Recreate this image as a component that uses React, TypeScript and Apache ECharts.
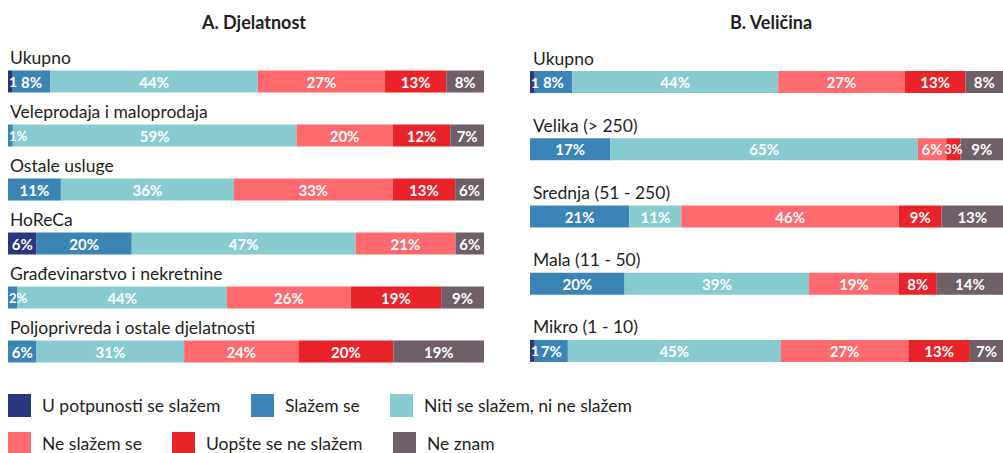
import React, { useEffect, useRef } from "react";
import * as echarts from "echarts";

const seriesNames = [
  "U potpunosti se slažem",
  "Slažem se",
  "Niti se slažem, ni ne slažem",
  "Ne slažem se",
  "Uopšte se ne slažem",
  "Ne znam",
];
const colors = ["#2a3680", "#3a84b6", "#87cbd0", "#fe6a6e", "#e8242a", "#6e5f69"];

const titleA = "A. Djelatnost";
const titleB = "B. Veličina";

const catsA = [
  "Ukupno",
  "Veleprodaja i maloprodaja",
  "Ostale usluge",
  "HoReCa",
  "Građevinarstvo i nekretnine",
  "Poljoprivreda i ostale djelatnosti",
];
const navyA = [1, 0, 0, 6, 0, 0];
const blueA = [8, 1, 11, 20, 2, 6];
const tealA = [44, 59, 36, 47, 44, 31];
const salmonA = [27, 20, 33, 21, 26, 24];
const redA = [13, 12, 13, 0, 19, 20];
const greyA = [8, 7, 6, 6, 9, 19];

const catsB = ["Ukupno", "Velika (> 250)", "Srednja (51 - 250)", "Mala (11 - 50)", "Mikro (1 - 10)"];
const navyB = [1, 0, 0, 0, 1];
const blueB = [8, 17, 21, 20, 7];
const tealB = [44, 65, 11, 39, 45];
const salmonB = [27, 6, 46, 19, 27];
const redB = [13, 3, 9, 8, 13];
const greyB = [8, 9, 13, 14, 7];

const FONT = "Lato, 'Open Sans', sans-serif";
const TEXT = "#231f20";

// legend item anchors (left, top)
const legendPos = [
  [8, 394],
  [251, 394],
  [390, 394],
  [8, 432],
  [172, 432],
  [393, 432],
];

function buildSeries(groups: number[][], gridIdx: number) {
  const n = groups[0].length;
  const sums = Array.from({ length: n }, (_, i) => groups.reduce((s, g) => s + g[i], 0));
  return groups.map((g, si) => ({
    type: "bar",
    name: seriesNames[si],
    stack: "s" + gridIdx,
    xAxisIndex: gridIdx,
    yAxisIndex: gridIdx,
    barWidth: 22,
    itemStyle: { color: colors[si] },
    label: {
      show: true,
      position: "inside",
      color: "#fff",
      fontWeight: "bold",
      fontSize: 15,
      fontFamily: FONT,
      formatter: (p: any) => {
        const raw = p.data.raw;
        if (!raw) return "";
        if (si === 0 && raw <= 1) return String(raw);
        return raw + "%";
      },
    },
    data: g.map((v, i) => {
      const item: any = { value: (v / sums[i]) * 100, raw: v };
      if (v > 0 && v <= 2) {
        item.label = { position: "insideLeft", distance: 1, fontSize: si === 0 ? 14 : 13 };
      } else if (v === 3) {
        item.label = { fontSize: 13 };
      }
      return item;
    }),
  }));
}

export default function App() {
  const ref = useRef<HTMLDivElement>(null);
  useEffect(() => {
    if (!ref.current) return;
    const chart = echarts.init(ref.current, undefined, { renderer: "svg" });
    const yAxisBase = {
      type: "category",
      inverse: true,
      axisLine: { show: false },
      axisTick: { show: false },
      axisLabel: {
        inside: true,
        interval: 0,
        align: "left",
        verticalAlign: "bottom",
        padding: [0, 0, 15, 0],
        fontSize: 17.5,
        color: TEXT,
        fontFamily: FONT,
      },
    };
    const option: any = {
      animation: false,
      backgroundColor: "#fff",
      title: [
        {
          text: titleA,
          left: 249,
          top: 8,
          textAlign: "center",
          textStyle: { fontSize: 18, fontWeight: "bold", color: TEXT, fontFamily: FONT },
        },
        {
          text: titleB,
          left: 766,
          top: 8,
          textAlign: "center",
          textStyle: { fontSize: 18, fontWeight: "bold", color: TEXT, fontFamily: FONT },
        },
      ],
      grid: [
        { left: 8, width: 476, top: 54.5, height: 324 },
        { left: 530, width: 473, top: 48.5, height: 336 },
      ],
      xAxis: [
        { type: "value", gridIndex: 0, min: 0, max: 100, show: false },
        { type: "value", gridIndex: 1, min: 0, max: 100, show: false },
      ],
      yAxis: [
        { ...yAxisBase, gridIndex: 0, data: catsA, axisLabel: { ...yAxisBase.axisLabel, margin: 2 } },
        { ...yAxisBase, gridIndex: 1, data: catsB, axisLabel: { ...yAxisBase.axisLabel, margin: 3 } },
      ],
      legend: seriesNames.map((name, i) => ({
        data: [name],
        left: legendPos[i][0],
        top: legendPos[i][1],
        padding: 0,
        icon: "rect",
        itemWidth: 23,
        itemHeight: 23,
        selectedMode: false,
        textStyle: { fontSize: 17.5, color: TEXT, fontFamily: FONT, padding: [0, 0, 0, 6] },
      })),
      series: [
        ...buildSeries([navyA, blueA, tealA, salmonA, redA, greyA], 0),
        ...buildSeries([navyB, blueB, tealB, salmonB, redB, greyB], 1),
      ],
    };
    chart.setOption(option);
    return () => chart.dispose();
  }, []);
  return (
    <div
      ref={ref}
      style={{ position: "absolute", left: 0, top: 0, width: 1003, height: 453 }}
    />
  );
}
